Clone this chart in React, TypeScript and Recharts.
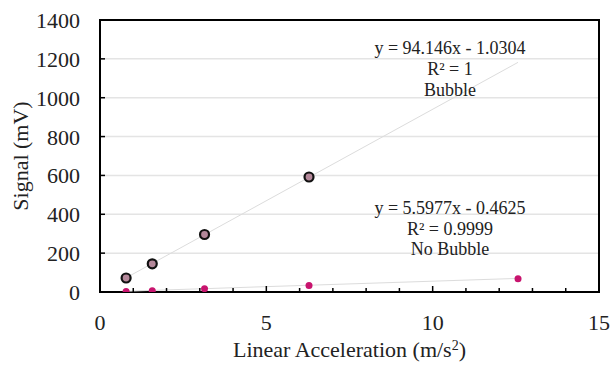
import React from 'react';
import {
  ScatterChart,
  Scatter,
  XAxis,
  YAxis,
  CartesianGrid,
  ReferenceDot,
  ReferenceArea,
  Label,
} from 'recharts';

// measured points
const bubbleX = [0.785, 1.571, 3.142, 6.283];
const bubbleY = [72, 145, 296, 592];
const noBubbleX = [0.785, 1.571, 3.142, 6.283, 12.566];
const noBubbleY = [2, 7, 17, 34, 68];

// trendline end points
const bubbleFitX = [0.785, 12.566];
const bubbleFitY = [73, 1182];
const noBubbleFitX = [0.785, 12.566];
const noBubbleFitY = [4, 70];

const xTicks = [0, 1, 2, 3, 4, 5, 6, 7, 8, 9, 10, 11, 12, 13, 14, 15];
const yTicks = [0, 200, 400, 600, 800, 1000, 1200, 1400];

// annotation text blocks: [label, x, y]
const bubbleNotes: [string, number, number][] = [
  ['y = 94.146x - 1.0304', 10.52, 1256],
  ['R² = 1', 10.52, 1148],
  ['Bubble', 10.52, 1040],
];
const noBubbleNotes: [string, number, number][] = [
  ['y = 5.5977x - 0.4625', 10.52, 432],
  ['R² = 0.9999', 10.52, 328],
  ['No Bubble', 10.52, 221],
];

const FONT = '"Liberation Serif", "Times New Roman", serif';

const zip = (xs: number[], ys: number[]) => xs.map((x, i) => ({ x, y: ys[i] }));

const bubbleData = zip(bubbleX, bubbleY);
const noBubbleData = zip(noBubbleX, noBubbleY);
const bubbleFit = zip(bubbleFitX, bubbleFitY);
const noBubbleFit = zip(noBubbleFitX, noBubbleFitY);

const XTick = (props: any) => {
  const { x, y, payload } = props;
  const v = payload.value;
  const major = v % 5 === 0;
  return (
    <g>
      <line x1={x} x2={x} y1={y} y2={y - (major ? 6 : 4)} stroke="#000" strokeWidth={1.5} />
      {major && (
        <text x={x} y={y + 38} textAnchor="middle" fontSize={22} fontFamily={FONT} fill="#222">
          {v}
        </text>
      )}
    </g>
  );
};

const YTick = (props: any) => {
  const { x, y, payload } = props;
  return (
    <g>
      <line x1={x} x2={x + 5} y1={y} y2={y} stroke="#000" strokeWidth={1.5} />
      <text x={x - 20} y={y + 8} textAnchor="end" fontSize={22} fontFamily={FONT} fill="#222">
        {payload.value}
      </text>
    </g>
  );
};

const XLabel = (props: any) => {
  const { viewBox } = props;
  return (
    <text
      x={viewBox.x + viewBox.width / 2}
      y={viewBox.y + 65}
      textAnchor="middle"
      fontSize={22}
      fontFamily={FONT}
      fill="#222"
    >
      Linear Acceleration (m/s
      <tspan baselineShift="super" fontSize={14}>2</tspan>
      <tspan>)</tspan>
    </text>
  );
};

const YLabel = (props: any) => {
  const { viewBox } = props;
  const cy = viewBox.y + viewBox.height / 2;
  return (
    <text
      x={20}
      y={cy}
      transform={`rotate(-90, 20, ${cy})`}
      textAnchor="middle"
      dominantBaseline="central"
      fontSize={22}
      fontFamily={FONT}
      fill="#222"
    >
      Signal (mV)
    </text>
  );
};

const BubbleDot = (p: any) => (
  <circle cx={p.cx} cy={p.cy} r={4.5} fill="#b4889a" stroke="#111" strokeWidth={2.2} />
);
const NoBubbleDot = (p: any) => <circle cx={p.cx} cy={p.cy} r={3.5} fill="#c8146e" />;
const NoShape = () => <g />;

export default function App() {
  return (
    <div style={{ position: 'absolute', left: 0, top: 0, background: '#fff' }}>
      <ScatterChart width={612} height={369} margin={{ top: 20, right: 13, bottom: 17, left: 10 }}>
        <CartesianGrid vertical={false} stroke="#e4e4e4" strokeWidth={1.5} />
        <XAxis
          type="number"
          dataKey="x"
          domain={[0, 15]}
          ticks={xTicks}
          interval={0}
          height={60}
          tickSize={0}
          tickMargin={0}
          tickLine={false}
          axisLine={{ stroke: '#000', strokeWidth: 2 }}
          tick={<XTick />}
          allowDataOverflow
        >
          <Label content={<XLabel />} />
        </XAxis>
        <YAxis
          type="number"
          dataKey="y"
          domain={[0, 1400]}
          ticks={yTicks}
          interval={0}
          width={90}
          tickSize={0}
          tickMargin={0}
          tickLine={false}
          axisLine={{ stroke: '#000', strokeWidth: 2 }}
          tick={<YTick />}
          allowDataOverflow
        >
          <Label content={<YLabel />} />
        </YAxis>
        <ReferenceArea x1={0} x2={15} y1={0} y2={1400} fill="none" stroke="#000" strokeWidth={2} />
        <Scatter
          data={bubbleFit}
          line={{ stroke: '#dcdcdc', strokeWidth: 1 }}
          lineType="joint"
          shape={<NoShape />}
          isAnimationActive={false}
        />
        <Scatter
          data={noBubbleFit}
          line={{ stroke: '#dcdcdc', strokeWidth: 1 }}
          lineType="joint"
          shape={<NoShape />}
          isAnimationActive={false}
        />
        {[...bubbleNotes, ...noBubbleNotes].map(([t, x, y]) => (
          <ReferenceDot key={t} x={x} y={y} r={0} fill="none" stroke="none">
            <Label value={t} position="center" fontSize={18} fontFamily={FONT} fill="#222" />
          </ReferenceDot>
        ))}
        <Scatter data={bubbleData} shape={<BubbleDot />} isAnimationActive={false} />
        <Scatter data={noBubbleData} shape={<NoBubbleDot />} isAnimationActive={false} />
      </ScatterChart>
    </div>
  );
}
